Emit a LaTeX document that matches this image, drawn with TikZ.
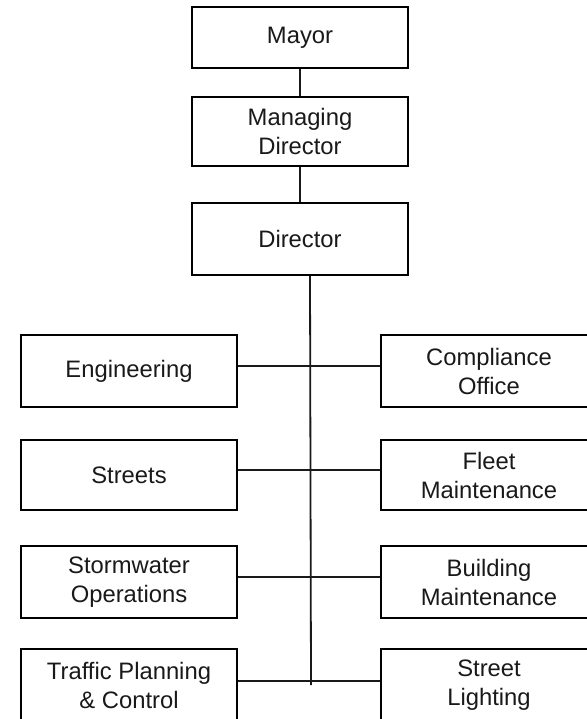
\documentclass[tikz,border=0pt]{standalone}
\usepackage{fontspec}
\setmainfont{Liberation Sans}
\begin{document}
\begin{tikzpicture}[x=1pt,y=-1pt,
  box/.style={draw=black, line width=2pt, rectangle, minimum width=216pt, inner sep=0pt,
    align=center, font=\fontsize{23.8}{29}\selectfont, text=black!90},
  link/.style={draw=black!90, line width=1.8pt}]
\useasboundingbox (0,0) rectangle (586,719);
\node[box, minimum height=61pt] (mayor) at (300,37.5) {Mayor};
\node[box, minimum height=69pt] (md) at (300,131.5) {Managing\\Director};
\node[box, minimum height=72pt] (dir) at (300,239) {Director};
\node[box, minimum height=72pt] (eng) at (129,371) {Engineering};
\node[box, minimum height=70pt] (str) at (129,475) {Streets};
\node[box, minimum height=72pt] (storm) at (129,582) {Stormwater\\Operations};
\node[box, minimum height=72pt] (traf) at (129,685) {Traffic Planning\\\& Control};
\node[box, minimum height=72pt] (comp) at (489,371) {Compliance\\Office};
\node[box, minimum height=70pt] (fleet) at (489,475) {Fleet\\Maintenance};
\node[box, minimum height=72pt] (bldg) at (489,582) {Building\\Maintenance};
\node[box, minimum height=72pt] (light) at (489,685) {Street\\Lighting};
\coordinate (bot) at (311,685);
\draw[link] (mayor.south) -- (md.north);
\draw[link] (md.south) -- (dir.north);
\draw[link] ([xshift=10pt]dir.south) -- (bot);
\draw[link] ([yshift=5pt]eng.east) -- ([yshift=5pt]comp.west);
\draw[link] ([yshift=5pt]str.east) -- ([yshift=5pt]fleet.west);
\draw[link] ([yshift=5pt]storm.east) -- ([yshift=5pt]bldg.west);
\draw[link] ([yshift=4pt]traf.east) -- ([yshift=4pt]light.west);
\end{tikzpicture}
\end{document}
